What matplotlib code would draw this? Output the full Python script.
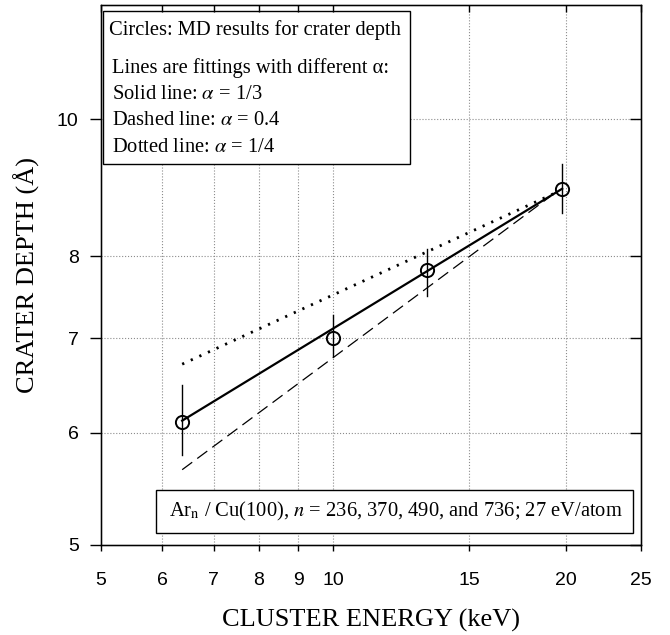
import matplotlib
matplotlib.use('Agg')
import matplotlib.pyplot as plt
from matplotlib.patches import Rectangle
from matplotlib.ticker import FixedLocator, NullLocator, FixedFormatter

plt.rcParams['font.family'] = 'Liberation Serif'
plt.rcParams['mathtext.fontset'] = 'stix'

# MD results (keV, Angstrom)
energy = [6.37, 9.99, 13.23, 19.78]
depth = [6.11, 7.00, 7.82, 8.93]
depth_low = [5.79, 6.80, 7.50, 8.59]
depth_high = [6.49, 7.27, 8.09, 9.30]

# fitted lines (endpoints)
solid_e = [6.37, 19.78]
solid_d = [6.12, 8.93]
dashed_e = [6.37, 19.1]
dashed_d = [5.65, 8.82]
dotted_e = [6.37, 19.3]
dotted_d = [6.71, 8.86]

xticks = [5, 6, 7, 8, 9, 10, 15, 20, 25]
yticks = [5, 6, 7, 8, 10]

legend_lines = [
    'Circles: MD results for crater depth',
    'Lines are fittings with different \u03b1:',
    r'Solid line: $\alpha$ = 1/3',
    r'Dashed line: $\alpha$ = 0.4',
    r'Dotted line: $\alpha$ = 1/4',
]

fig = plt.figure(figsize=(6.7, 6.35), dpi=100)
ax = fig.add_axes([0.1507, 0.1422, 0.8056, 0.8494])
ax.set_xscale('log')
ax.set_yscale('log')
ax.set_xlim(5, 25)
ax.set_ylim(5, 12.04)

# grid
for x in xticks[1:-1]:
    ax.axvline(x, color='0.55', linestyle=':', linewidth=0.8, zorder=0)
for y in yticks[1:]:
    ax.axhline(y, color='0.55', linestyle=':', linewidth=0.8, zorder=0)

# fits
ax.plot(solid_e, solid_d, color='black', linewidth=1.6, zorder=3)
ax.plot(dashed_e, dashed_d, color='black', linewidth=0.9,
        linestyle=(0, (10, 5)), zorder=3)
ax.plot(dotted_e, dotted_d, color='black', linewidth=2.0,
        linestyle=(0, (0.8, 2.6)), zorder=3)

# error bars and circles
for e, lo, hi in zip(energy, depth_low, depth_high):
    ax.plot([e, e], [lo, hi], color='black', linewidth=1.0, zorder=4)
ax.plot(energy, depth, 'o', markersize=9.5, markerfacecolor='none',
        markeredgecolor='black', markeredgewidth=1.4, zorder=5)

# ticks
ax.xaxis.set_major_locator(FixedLocator(xticks))
ax.xaxis.set_minor_locator(NullLocator())
ax.xaxis.set_major_formatter(FixedFormatter([str(t) for t in xticks]))
ax.yaxis.set_major_locator(FixedLocator(yticks))
ax.yaxis.set_minor_locator(NullLocator())
ax.yaxis.set_major_formatter(FixedFormatter([str(t) for t in yticks]))
ax.tick_params(axis='x', direction='out', length=4, width=1, pad=16,
               labelsize=14, labelfontfamily='Liberation Sans')
ax.tick_params(axis='y', direction='out', length=8, width=1, pad=8,
               labelsize=14, labelfontfamily='Liberation Sans')
for s in ax.spines.values():
    s.set_linewidth(1.0)

# inward ticks on the right and top
axr = ax.twinx()
axr.set_yscale('log')
axr.set_ylim(ax.get_ylim())
axr.yaxis.set_major_locator(FixedLocator(yticks))
axr.yaxis.set_minor_locator(NullLocator())
axr.tick_params(axis='y', direction='in', length=8, width=1, labelright=False)
axt = ax.twiny()
axt.set_xscale('log')
axt.set_xlim(ax.get_xlim())
axt.xaxis.set_major_locator(FixedLocator(xticks))
axt.xaxis.set_minor_locator(NullLocator())
axt.tick_params(axis='x', direction='in', length=5, width=1, labeltop=False)

ax.set_xlabel('CLUSTER ENERGY (keV)', fontsize=19, labelpad=14)
ax.set_ylabel('CRATER DEPTH (\u00c5)', fontsize=19, labelpad=12)

# upper-left text box
ax.add_patch(Rectangle((0.004, 0.706), 0.569, 0.284, transform=ax.transAxes,
                       facecolor='white', edgecolor='black', linewidth=1.0,
                       zorder=6))
text_x = [0.0154, 0.0198, 0.021, 0.021, 0.021]
text_y = [0.954, 0.884, 0.834, 0.787, 0.737]
for tx, ty, s in zip(text_x, text_y, legend_lines):
    ax.text(tx, ty, s, transform=ax.transAxes, fontsize=14.8,
            va='center', ha='left', zorder=7)

# lower text box
ax.add_patch(Rectangle((0.102, 0.022), 0.884, 0.079, transform=ax.transAxes,
                       facecolor='white', edgecolor='black', linewidth=1.0,
                       zorder=6))
ax.text(0.126, 0.062,
        r'Ar$_\mathrm{n}$ / Cu(100), $n$ = 236, 370, 490, and 736; 27 eV/atom',
        transform=ax.transAxes, fontsize=14.8, va='center', ha='left', zorder=7)

plt.savefig('out.png', dpi=100)
plt.close()
